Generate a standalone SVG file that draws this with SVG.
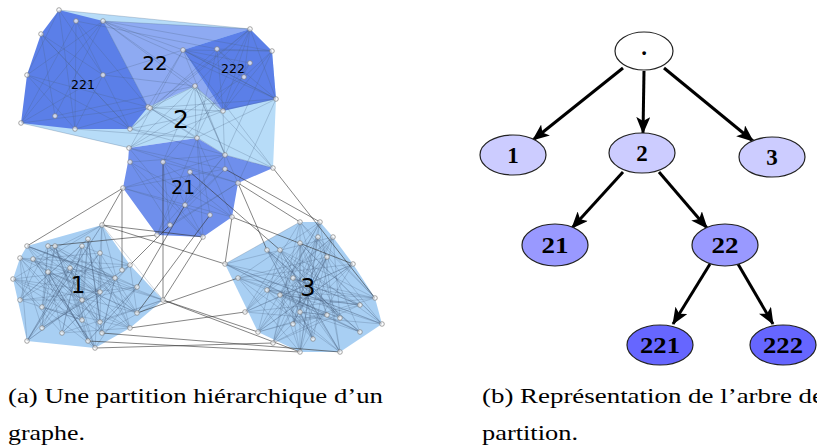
<svg xmlns="http://www.w3.org/2000/svg" width="817" height="447" viewBox="0 0 817 447">
<style>
.mesh{fill:none;stroke:#4a6080;stroke-opacity:0.4;stroke-width:0.65}
.inter{fill:none;stroke:#333;stroke-opacity:0.75;stroke-width:0.8}
.pt{fill:#fff;fill-opacity:0.7;stroke:#808080;stroke-width:0.7}
.lbl{font-family:"DejaVu Sans",sans-serif;fill:#000;text-anchor:middle;dominant-baseline:central}
.tn{stroke:#222;stroke-width:1.2}
.tt{font-family:"Liberation Serif","Times New Roman",serif;font-weight:bold;font-size:23px;text-anchor:middle;fill:#000}
.edge{stroke:#000;stroke-width:3;fill:none;marker-end:url(#ah)}
.cap{font-family:"Liberation Serif","Times New Roman",serif;font-size:22px;fill:#000}
</style>
<defs>
<marker id="ah" markerUnits="userSpaceOnUse" viewBox="0 0 17 14" refX="16" refY="7" markerWidth="17" markerHeight="14" orient="auto">
<path d="M0,0 L17,7 L0,14 L4,7 z" fill="#000"/>
</marker>
</defs>

<g id="graph">
<g id="region-2"><polygon points="21,123 59,10 250,29 272,51 276,99 273,168 225,155 197,138 129,148" fill="#b7dcf8"/></g>
<g id="region-1"><polygon points="102,225 130,265 163,300 130,328 95,348 27,341 13,279 20,258 27,246" fill="#a8cff3"/></g>
<g id="region-3"><polygon points="300,222 320,222 333,237 353,264 375,298 382,324 340,352 300,352 258,332 225,264" fill="#a8cff3"/></g>
<g id="region-22"><polygon points="103,21 250,29 183,50 223,111 195,86 148,107" fill="#8eaaf2"/></g>
<g id="region-221"><polygon points="59,10 103,21 148,107 130,129 75,129 21,123 27,75 41,34" fill="#5b7fe8"/></g>
<g id="region-222"><polygon points="250,29 272,51 276,99 223,111 183,50" fill="#5b7fe8"/></g>
<g id="region-21"><polygon points="129,148 197,138 225,155 273,168 238,183 232,217 203,237 157,235 123,188 128,162" fill="#6f8fec"/></g>

<g id="edges-graph">
<path class="mesh" d="M102,225 L33,259 L20,300 L48,246 L100,292 L100,253 L27,341 L82,246 L42,307 L13,279 L102,333 L115,278 L27,246 L100,322 L163,300 L20,258 L42,328 L70,268 L95,348 L55,246 L137,313 L130,265 L82,320 L88,239 L82,300 L137,287 L88,341 L48,272 L62,333 L130,328 L102,225"/>
<path class="mesh" d="M102,225 L13,279 L100,292 L27,246 L163,300 L62,333 L82,246 L130,265 L42,328 L48,246 L42,307 L95,348 L33,259 L100,253 L137,313 L20,258 L27,341 L115,278 L55,246 L82,320 L20,300 L70,268 L102,333 L88,239 L130,328 L82,300 L48,272 L88,341 L137,287 L100,322 L102,225"/>
<path class="mesh" d="M27,246 L115,278 L102,333 L163,300 L70,268 L27,341 L102,225 L100,253 L42,328 L100,292 L33,259 L95,348 L137,287 L48,246 L130,328 L13,279 L62,333 L130,265 L20,258 L82,320 L42,307 L55,246 L88,341 L48,272 L137,313 L82,246 L82,300 L20,300 L88,239 L100,322"/>
<path class="mesh" d="M163,300 L102,225 L27,341 L130,265 L13,279 L137,313 L48,246 L102,333 L88,239 L20,300 L137,287 L27,246 L95,348 L100,253 L42,307 L130,328 L82,246 L62,333 L115,278 L20,258 L88,341 L70,268 L100,322 L33,259 L82,300 L55,246 L42,328 L100,292 L48,272 L82,320"/>
<path class="mesh" d="M300,222 L225,264 L375,298 L280,250 L258,332 L353,264 L300,352 L318,237 L245,312 L382,324 L300,243 L273,343 L327,257 L238,278 L340,352 L320,222 L267,290 L360,332 L267,250 L340,318 L333,237 L293,324 L293,278 L360,305 L280,295 L313,339 L300,312 L327,315 L300,222"/>
<path class="mesh" d="M320,222 L238,278 L353,264 L245,312 L333,237 L258,332 L375,298 L267,290 L340,352 L280,250 L382,324 L225,264 L360,332 L318,237 L273,343 L360,305 L267,250 L313,339 L293,278 L340,318 L300,243 L300,352 L280,295 L327,257 L293,324 L327,315 L300,312 L300,222"/>
<path class="mesh" d="M225,264 L382,324 L300,222 L245,312 L353,264 L273,343 L333,237 L267,290 L360,305 L258,332 L327,257 L300,352 L280,250 L340,318 L238,278 L375,298 L318,237 L293,324 L320,222 L280,295 L360,332 L293,278 L340,352 L267,250 L300,312 L313,339 L300,243 L327,315"/>
<path class="mesh" d="M353,264 L258,332 L320,222 L300,352 L238,278 L382,324 L300,243 L245,312 L375,298 L300,222 L273,343 L327,315 L225,264 L333,237 L313,339 L267,290 L340,318 L280,250 L340,352 L318,237 L280,295 L360,305 L293,278 L267,250 L360,332 L300,312 L327,257 L293,324"/>
<path class="mesh" d="M129,148 L238,183 L157,235 L225,155 L123,188 L210,215 L197,138 L203,237 L130,162 L232,217 L163,162 L170,225 L225,169 L185,205 L190,172 L157,235 L197,138 L232,217 L123,188 L225,169 L129,148 L203,237 L163,162 L238,183 L170,225 L130,162 L225,155 L185,205"/>
<path class="mesh" d="M59,10 L103,75 L21,123 L103,21 L55,116 L41,34 L130,129 L27,75 L148,107 L76,21 L75,129 L59,10 L27,75 L103,21 L148,107 L21,123 L76,21 L130,129 L41,34 L103,75 L75,129 L27,75"/>
<path class="mesh" d="M250,29 L223,111 L217,49 L276,99 L183,50 L272,51 L244,77 L250,29 L276,99 L183,50 L250,63 L223,111 L272,51 L217,49 L244,77 L183,50"/>
<path class="mesh" d="M195,86 L150,108 M195,86 L130,148 M195,86 L196,138 M195,86 L225,155 M195,86 L273,168 M195,86 L223,111 M195,86 L103,21 M195,86 L250,29 M195,86 L163,162 M195,86 L238,183 M150,108 L250,29 M150,108 L223,111 M150,108 L276,99 M150,108 L273,168 M150,108 L196,138 M150,108 L225,155 M130,129 L276,99 M130,129 L250,29 M130,129 L196,138 M130,129 L273,168 M103,21 L250,29 M103,21 L183,50 M103,21 L272,51 M103,21 L223,111 M103,21 L276,99 M59,10 L250,29 M76,21 L217,49 M183,50 L130,148 M183,50 L225,155 M217,49 L196,138 M244,77 L129,148 M250,63 L163,162 M223,111 L130,148 M223,111 L225,169 M276,99 L196,138 M272,51 L225,155 M276,99 L238,183 M250,29 L196,138 M183,50 L273,168 M148,107 L183,50 M130,129 L217,49 M75,129 L196,138 M55,116 L195,86 M21,123 L130,148 M75,129 L150,108 M103,75 L183,50 M103,75 L195,86"/>
<path class="inter" d="M123,188 L27,246 M123,188 L102,225 M122,189 L122,270 M163,162 L163,300 M102,225 L225,264 M102,225 L203,237 M157,235 L48,246 M170,225 L130,265 M185,205 L137,287 M203,237 L163,300 M210,215 L137,313 M232,217 L225,264 M232,217 L353,264 M238,183 L300,222 M273,168 L375,298 M225,169 L320,222 M163,300 L300,352 M163,300 L258,332 M95,348 L273,343 M130,328 L245,312 M102,333 L340,352 M137,313 L238,278 M88,341 L300,352 M190,172 L280,250 M238,183 L267,250"/>
</g>

<g id="graph-nodes">
<circle class="pt" cx="59" cy="10" r="2.3"/><circle class="pt" cx="76" cy="21" r="2.3"/><circle class="pt" cx="103" cy="21" r="2.3"/><circle class="pt" cx="41" cy="34" r="2.3"/><circle class="pt" cx="27" cy="75" r="2.3"/><circle class="pt" cx="103" cy="75" r="2.3"/><circle class="pt" cx="21" cy="123" r="2.3"/><circle class="pt" cx="55" cy="116" r="2.3"/><circle class="pt" cx="75" cy="129" r="2.3"/><circle class="pt" cx="130" cy="129" r="2.3"/><circle class="pt" cx="148" cy="107" r="2.3"/>
<circle class="pt" cx="250" cy="29" r="2.3"/><circle class="pt" cx="272" cy="51" r="2.3"/><circle class="pt" cx="276" cy="99" r="2.3"/><circle class="pt" cx="223" cy="111" r="2.3"/><circle class="pt" cx="183" cy="50" r="2.3"/><circle class="pt" cx="217" cy="49" r="2.3"/><circle class="pt" cx="250" cy="63" r="2.3"/><circle class="pt" cx="244" cy="77" r="2.3"/>
<circle class="pt" cx="195" cy="86" r="2.3"/><circle class="pt" cx="150" cy="108" r="2.3"/><circle class="pt" cx="273" cy="168" r="2.3"/>
<circle class="pt" cx="129" cy="148" r="2.3"/><circle class="pt" cx="130" cy="162" r="2.3"/><circle class="pt" cx="123" cy="188" r="2.3"/><circle class="pt" cx="163" cy="162" r="2.3"/><circle class="pt" cx="190" cy="172" r="2.3"/><circle class="pt" cx="225" cy="155" r="2.3"/><circle class="pt" cx="225" cy="169" r="2.3"/><circle class="pt" cx="238" cy="183" r="2.3"/><circle class="pt" cx="232" cy="217" r="2.3"/><circle class="pt" cx="203" cy="237" r="2.3"/><circle class="pt" cx="157" cy="235" r="2.3"/><circle class="pt" cx="185" cy="205" r="2.3"/><circle class="pt" cx="210" cy="215" r="2.3"/><circle class="pt" cx="170" cy="225" r="2.3"/><circle class="pt" cx="197" cy="138" r="2.3"/>
<circle class="pt" cx="102" cy="225" r="2.3"/><circle class="pt" cx="27" cy="246" r="2.3"/><circle class="pt" cx="48" cy="246" r="2.3"/><circle class="pt" cx="55" cy="246" r="2.3"/><circle class="pt" cx="82" cy="246" r="2.3"/><circle class="pt" cx="88" cy="239" r="2.3"/><circle class="pt" cx="20" cy="258" r="2.3"/><circle class="pt" cx="33" cy="259" r="2.3"/><circle class="pt" cx="13" cy="279" r="2.3"/><circle class="pt" cx="48" cy="272" r="2.3"/><circle class="pt" cx="70" cy="268" r="2.3"/><circle class="pt" cx="100" cy="253" r="2.3"/><circle class="pt" cx="130" cy="265" r="2.3"/><circle class="pt" cx="115" cy="278" r="2.3"/><circle class="pt" cx="137" cy="287" r="2.3"/><circle class="pt" cx="163" cy="300" r="2.3"/><circle class="pt" cx="20" cy="300" r="2.3"/><circle class="pt" cx="42" cy="307" r="2.3"/><circle class="pt" cx="82" cy="300" r="2.3"/><circle class="pt" cx="100" cy="292" r="2.3"/><circle class="pt" cx="137" cy="313" r="2.3"/><circle class="pt" cx="130" cy="328" r="2.3"/><circle class="pt" cx="100" cy="322" r="2.3"/><circle class="pt" cx="82" cy="320" r="2.3"/><circle class="pt" cx="42" cy="328" r="2.3"/><circle class="pt" cx="62" cy="333" r="2.3"/><circle class="pt" cx="27" cy="341" r="2.3"/><circle class="pt" cx="88" cy="341" r="2.3"/><circle class="pt" cx="102" cy="333" r="2.3"/><circle class="pt" cx="95" cy="348" r="2.3"/><circle class="pt" cx="122" cy="270" r="2.3"/>
<circle class="pt" cx="300" cy="222" r="2.3"/><circle class="pt" cx="320" cy="222" r="2.3"/><circle class="pt" cx="318" cy="237" r="2.3"/><circle class="pt" cx="333" cy="237" r="2.3"/><circle class="pt" cx="300" cy="243" r="2.3"/><circle class="pt" cx="280" cy="250" r="2.3"/><circle class="pt" cx="267" cy="250" r="2.3"/><circle class="pt" cx="327" cy="257" r="2.3"/><circle class="pt" cx="353" cy="264" r="2.3"/><circle class="pt" cx="225" cy="264" r="2.3"/><circle class="pt" cx="238" cy="278" r="2.3"/><circle class="pt" cx="293" cy="278" r="2.3"/><circle class="pt" cx="267" cy="290" r="2.3"/><circle class="pt" cx="280" cy="295" r="2.3"/><circle class="pt" cx="375" cy="298" r="2.3"/><circle class="pt" cx="360" cy="305" r="2.3"/><circle class="pt" cx="245" cy="312" r="2.3"/><circle class="pt" cx="300" cy="312" r="2.3"/><circle class="pt" cx="340" cy="318" r="2.3"/><circle class="pt" cx="382" cy="324" r="2.3"/><circle class="pt" cx="293" cy="324" r="2.3"/><circle class="pt" cx="258" cy="332" r="2.3"/><circle class="pt" cx="360" cy="332" r="2.3"/><circle class="pt" cx="313" cy="339" r="2.3"/><circle class="pt" cx="273" cy="343" r="2.3"/><circle class="pt" cx="300" cy="352" r="2.3"/><circle class="pt" cx="340" cy="352" r="2.3"/><circle class="pt" cx="327" cy="315" r="2.3"/>
</g>

<g id="graph-labels">
<text class="lbl" x="83" y="84" font-size="12.5">221</text>
<text class="lbl" x="155" y="63" font-size="20">22</text>
<text class="lbl" x="233" y="68" font-size="12.5">222</text>
<text class="lbl" x="181" y="119" font-size="25">2</text>
<text class="lbl" x="183" y="187" font-size="19">21</text>
<text class="lbl" x="78" y="285" font-size="23">1</text>
<text class="lbl" x="308" y="288" font-size="24">3</text>
</g>
</g>

<g id="tree-edges">
<line class="edge" x1="623" y1="68" x2="533" y2="140"/>
<line class="edge" x1="644" y1="71" x2="643" y2="133"/>
<line class="edge" x1="664" y1="68" x2="753" y2="141"/>
<line class="edge" x1="623" y1="172" x2="572" y2="228"/>
<line class="edge" x1="659" y1="172" x2="707" y2="228"/>
<line class="edge" x1="710" y1="264" x2="673" y2="324"/>
<line class="edge" x1="738" y1="264" x2="773" y2="324"/>
</g>

<g id="node-root"><ellipse class="tn" cx="644" cy="51" rx="29" ry="19" fill="#fff"/><text class="tt" x="644" y="55">.</text></g>
<g id="node-1"><ellipse class="tn" cx="513" cy="155" rx="33" ry="20" fill="#ccccff"/><text class="tt" x="513" y="163">1</text></g>
<g id="node-2"><ellipse class="tn" cx="642" cy="153" rx="33" ry="20" fill="#ccccff"/><text class="tt" x="642" y="161">2</text></g>
<g id="node-3"><ellipse class="tn" cx="772" cy="157" rx="33" ry="20" fill="#ccccff"/><text class="tt" x="772" y="165">3</text></g>
<g id="node-21"><ellipse class="tn" cx="555" cy="245" rx="33" ry="21" fill="#9999ff"/><text class="tt" x="555" y="253" textLength="27" lengthAdjust="spacingAndGlyphs">21</text></g>
<g id="node-22"><ellipse class="tn" cx="725" cy="245" rx="33" ry="21" fill="#9999ff"/><text class="tt" x="725" y="253" textLength="27" lengthAdjust="spacingAndGlyphs">22</text></g>
<g id="node-221"><ellipse class="tn" cx="660" cy="345" rx="33" ry="20" fill="#6666ff"/><text class="tt" x="660" y="353" textLength="40" lengthAdjust="spacingAndGlyphs">221</text></g>
<g id="node-222"><ellipse class="tn" cx="783" cy="345" rx="33" ry="20" fill="#6666ff"/><text class="tt" x="783" y="353" textLength="40" lengthAdjust="spacingAndGlyphs">222</text></g>

<g id="captions">
<text class="cap" x="8" y="403" textLength="375" lengthAdjust="spacingAndGlyphs">(a) Une partition hiérarchique d’un</text>
<text class="cap" x="8" y="440" textLength="77" lengthAdjust="spacingAndGlyphs">graphe.</text>
<text class="cap" x="482" y="403" textLength="342" lengthAdjust="spacingAndGlyphs">(b) Représentation de l’arbre de</text>
<text class="cap" x="482" y="440" textLength="96" lengthAdjust="spacingAndGlyphs">partition.</text>
</g>
</svg>
